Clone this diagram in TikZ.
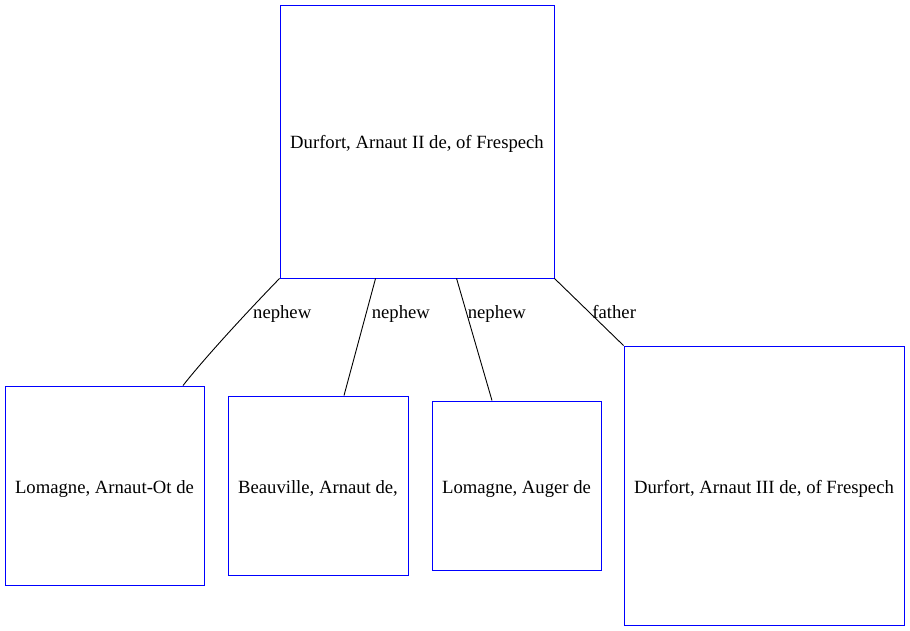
\documentclass[tikz,border=0pt]{standalone}
\usepackage{fontspec}
\setmainfont{Liberation Serif}
\begin{document}
\begin{tikzpicture}[x=1pt,y=1pt,
  box/.style={draw=blue, line width=0.9pt, rectangle, inner sep=0pt, text height=19pt, text depth=4pt, font=\fontsize{18.67}{22}\selectfont},
  rel/.style={draw=black, line width=0.9pt},
  lbl/.style={anchor=west, inner sep=1pt, yshift=-2pt, font=\fontsize{18.67}{22}\selectfont}]
\useasboundingbox (0,0) rectangle (910,-631);
\node[box, minimum width=274pt, minimum height=273pt] (top) at (417,-141.5) {Durfort, Arnaut II de, of Frespech};
\node[box, minimum width=199pt, minimum height=199pt] (b1) at (104.5,-485.5) {Lomagne, Arnaut-Ot de};
\node[box, minimum width=180pt, minimum height=179pt] (b2) at (318,-485.5) {Beauville, Arnaut de,};
\node[box, minimum width=169pt, minimum height=169pt] (b3) at (516.5,-485.5) {Lomagne, Auger de};
\node[box, minimum width=280pt, minimum height=279pt] (b4) at (764,-485.5) {Durfort, Arnaut III de, of Frespech};
\coordinate (t2) at ([xshift=96pt]top.south west);
\coordinate (t3) at ([xshift=177pt]top.south west);
\coordinate (e1) at ([xshift=78.5pt]b1.north);
\coordinate (e2) at ([xshift=26pt]b2.north);
\coordinate (e3) at ([xshift=-24.5pt]b3.north);
\draw[rel] (top.south west) .. controls +(-45,-46.5) and +(16,20.5) .. node[lbl, pos=0.25, xshift=4pt] {nephew} (e1);
\draw[rel] (t2) -- node[lbl, pos=0.29, xshift=4pt] {nephew} (e2);
\draw[rel] (t3) -- node[lbl, pos=0.276, xshift=0pt] {nephew} (e3);
\draw[rel] (top.south east) -- node[lbl, pos=0.5, xshift=2pt, yshift=2pt] {father} (b4.north west);
\end{tikzpicture}
\end{document}
